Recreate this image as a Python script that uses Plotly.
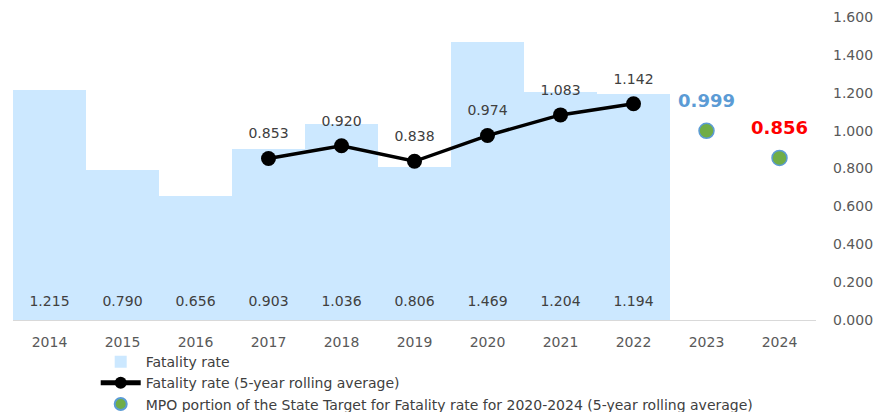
import plotly.graph_objects as go

years = ["2014", "2015", "2016", "2017", "2018", "2019", "2020", "2021", "2022", "2023", "2024"]
bar_years = ["2014", "2015", "2016", "2017", "2018", "2019", "2020", "2021", "2022"]
fatality_rate = [1.215, 0.790, 0.656, 0.903, 1.036, 0.806, 1.469, 1.204, 1.194]
avg_years = ["2017", "2018", "2019", "2020", "2021", "2022"]
rolling_avg = [0.853, 0.920, 0.838, 0.974, 1.083, 1.142]
target_years = ["2023", "2024"]
target_vals = [0.999, 0.856]
target_colors = ["#5B9BD5", "#FF0000"]
y_ticks = [0.0, 0.2, 0.4, 0.6, 0.8, 1.0, 1.2, 1.4, 1.6]

FONT = "DejaVu Sans"
fig = go.Figure()

fig.add_trace(go.Bar(
    x=bar_years, y=fatality_rate, name="Fatality rate",
    marker=dict(color="#CCE8FF", line=dict(width=0)),
    hoverinfo="x+y",
))

# bar value labels near the base
fig.add_trace(go.Scatter(
    x=bar_years, y=[0] * len(bar_years), mode="text+markers",
    marker=dict(size=15, opacity=0), text=[f"{v:.3f}" for v in fatality_rate],
    textposition="top center", textfont=dict(color="#404040", size=14, family=FONT),
    showlegend=False, hoverinfo="skip", cliponaxis=False,
))

fig.add_trace(go.Scatter(
    x=avg_years, y=rolling_avg, name="Fatality rate (5-year rolling average)",
    mode="lines+markers", line=dict(color="black", width=3.5),
    marker=dict(color="black", size=15),
))

fig.add_trace(go.Scatter(
    x=avg_years, y=rolling_avg, mode="text+markers",
    marker=dict(size=25, opacity=0), text=[f"{v:.3f}" for v in rolling_avg],
    textposition="top center", textfont=dict(color="#404040", size=14, family=FONT),
    showlegend=False, hoverinfo="skip", cliponaxis=False,
))

fig.add_trace(go.Scatter(
    x=target_years, y=target_vals,
    name="MPO portion of the State Target for Fatality rate for 2020-2024 (5-year rolling average)",
    mode="markers", marker=dict(color="#70AD47", size=15, line=dict(color="#5B9BD5", width=1.5)),
))

fig.add_trace(go.Scatter(
    x=target_years, y=target_vals, mode="text+markers",
    marker=dict(size=29, opacity=0), text=[f"<b>{v:.3f}</b>" for v in target_vals],
    textposition="top center", textfont=dict(color=target_colors, size=18, family=FONT),
    showlegend=False, hoverinfo="skip", cliponaxis=False,
))

# page body adds an 8px margin, so the figure is sized to fit the 892x412 window
fig.update_layout(
    width=884, height=404,
    margin=dict(l=5, r=75.5, t=9, b=92, autoexpand=False),
    paper_bgcolor="white", plot_bgcolor="white",
    bargap=0,
    showlegend=True,
    legend=dict(x=0.103, y=-0.086, xanchor="left", yanchor="top", orientation="v",
                font=dict(size=14, color="#404040", family=FONT), tracegroupgap=0,
                itemwidth=40, itemsizing="constant", bgcolor="rgba(0,0,0,0)"),
    font=dict(family=FONT, color="#595959"),
    xaxis=dict(categoryorder="array", categoryarray=years, range=[-0.5, 10.5],
               showline=True, linecolor="#D9D9D9", linewidth=1, ticks="",
               tickfont=dict(size=14, color="#595959", family=FONT), showgrid=False,
               ticklabelstandoff=9),
    yaxis=dict(side="right", range=[0, 1.6], tickvals=y_ticks,
               ticktext=[f"{v:.3f}" for v in y_ticks], showgrid=False, zeroline=False,
               tickfont=dict(size=14, color="#595959", family=FONT), ticklabelstandoff=16,
               showline=False),
)

fig.write_html("out.html")
